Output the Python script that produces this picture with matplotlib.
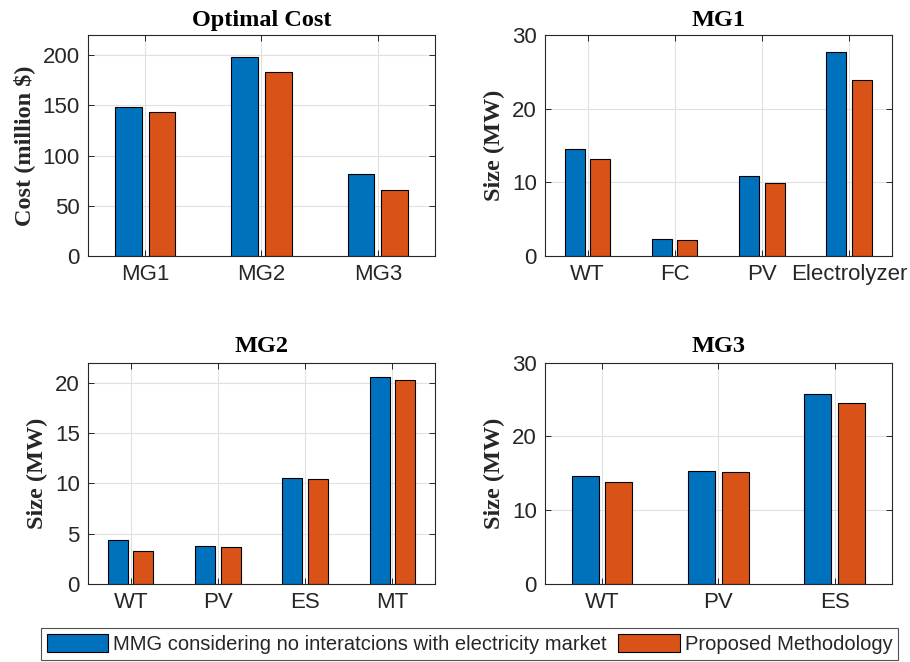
import matplotlib
matplotlib.use("Agg")
import matplotlib.pyplot as plt
import numpy as np
from matplotlib.patches import Patch

# ---- data ----
cost_cats = ["MG1", "MG2", "MG3"]
cost_base = [148, 198, 81.7]
cost_prop = [143, 183.5, 66]

mg1_cats = ["WT", "FC", "PV", "Electrolyzer"]
mg1_base = [14.5, 2.26, 10.9, 27.7]
mg1_prop = [13.2, 2.13, 9.87, 23.85]

mg2_cats = ["WT", "PV", "ES", "MT"]
mg2_base = [4.36, 3.82, 10.54, 20.53]
mg2_prop = [3.26, 3.69, 10.4, 20.3]

mg3_cats = ["WT", "PV", "ES"]
mg3_base = [14.68, 15.28, 25.7]
mg3_prop = [13.78, 15.14, 24.5]

legend_labels = ["MMG considering no interatcions with electricity market",
                 "Proposed Methodology"]

BLUE = "#0072BD"
ORANGE = "#D95319"
AXC = "#262626"

W, H = 910, 662
fig = plt.figure(figsize=(W / 100, H / 100), dpi=100)


def px_axes(l, t, r, b):
    return fig.add_axes([l / W, 1 - b / H, (r - l) / W, (b - t) / H])


panels = [
    (px_axes(88, 35, 435, 256), cost_cats, cost_base, cost_prop, (0, 220),
     [0, 50, 100, 150, 200], "Optimal Cost", "Cost (million $)", 6.5),
    (px_axes(545, 35, 891.7, 256), mg1_cats, mg1_base, mg1_prop, (0, 30),
     [0, 10, 20, 30], "MG1", "Size (MW)", 6.5),
    (px_axes(88, 362.7, 435, 584), mg2_cats, mg2_base, mg2_prop, (0, 22),
     [0, 5, 10, 15, 20], "MG2", "Size (MW)", 7.5),
    (px_axes(545, 362.7, 891.7, 584), mg3_cats, mg3_base, mg3_prop, (0, 30),
     [0, 10, 20, 30], "MG3", "Size (MW)", 7.5),
]

serif = ["Liberation Serif", "DejaVu Serif"]
sans = ["Liberation Sans", "DejaVu Sans"]

for ax, cats, base, prop, ylim, yt, title, ylab, tpad in panels:
    x = np.arange(1, len(cats) + 1)
    ax.set_axisbelow(True)
    ax.bar(x - 0.145, base, width=0.23, color=BLUE, edgecolor="black",
           linewidth=0.8, zorder=2)
    ax.bar(x + 0.145, prop, width=0.23, color=ORANGE, edgecolor="black",
           linewidth=0.8, zorder=2)
    ax.set_xlim(0.51, len(cats) + 0.49)
    ax.set_ylim(*ylim)
    ax.set_xticks(x)
    ax.set_xticklabels(cats, family=sans, fontsize=16, color=AXC)
    ax.set_yticks(yt)
    ax.set_yticklabels([str(v) for v in yt], family=sans, fontsize=16, color=AXC)
    ax.tick_params(direction="in", length=4, width=0.7, top=True, right=True,
                   colors=AXC, pad=6)
    ax.grid(True, color="#e0e0e0", linewidth=0.8)
    for s in ax.spines.values():
        s.set_color(AXC)
        s.set_linewidth(0.8)
    ax.set_title(title, family=serif, fontweight="bold", fontsize=17.5,
                 pad=tpad, color="black")
    ax.set_ylabel(ylab, family=serif, fontweight="bold", fontsize=17.5,
                  labelpad=5, color=AXC)

handles = [Patch(facecolor=BLUE, edgecolor="black", linewidth=0.8),
           Patch(facecolor=ORANGE, edgecolor="black", linewidth=0.8)]
leg = fig.legend(handles, legend_labels, loc="center",
                 bbox_to_anchor=((42.3 + 897) / 2 / W, 1 - 644.2 / H),
                 ncol=2, prop={"family": sans, "size": 14.5},
                 frameon=True, fancybox=False, handlelength=3.05,
                 handleheight=1.0, handletextpad=0.25, columnspacing=0.55,
                 borderpad=0.3, borderaxespad=0)
leg.get_frame().set_edgecolor(AXC)
leg.get_frame().set_linewidth(0.8)
for t in leg.get_texts():
    t.set_color(AXC)

fig.savefig("out.png", dpi=100)
